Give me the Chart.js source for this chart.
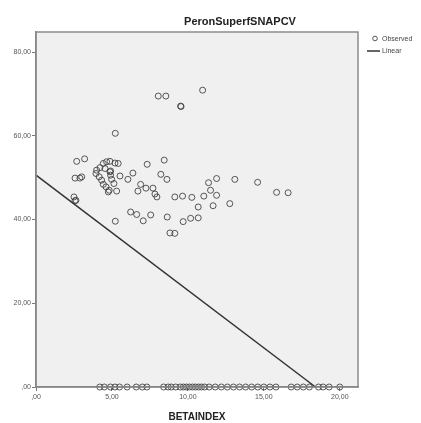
<!DOCTYPE html>
<html><head><meta charset="utf-8">
<script src="https://cdn.jsdelivr.net/npm/chart.js@4/dist/chart.umd.min.js"></script>
<style>html,body{margin:0;padding:0;background:#fff}canvas{display:block}</style>
</head><body>
<canvas id="c" width="421" height="423"></canvas>
<script>
const chartTitle = "PeronSuperfSNAPCV";
const xAxisTitle = "BETAINDEX";
const legendLabels = ["Observed", "Linear"];
const xTicks = [0, 5, 10, 15, 20];
const xTickLabels = [",00", "5,00", "10,00", "15,00", "20,00"];
const yTicks = [0, 20, 40, 60, 80];
const yTickLabels = [",00", "20,00", "40,00", "60,00", "80,00"];

const observedX = [8.05, 8.55, 10.97, 9.52, 9.55, 5.22, 2.68, 3.20, 7.32, 8.44,
  2.57, 3.01, 2.89, 2.50, 2.57, 2.63, 5.53, 6.05, 6.38, 6.89, 6.71, 7.24, 7.70,
  7.96, 7.83, 8.22, 8.62, 9.14, 9.65, 10.26, 11.05, 11.36, 11.89, 11.49, 11.89,
  13.09, 10.68, 11.66, 12.76, 14.59, 15.84, 16.60, 5.22, 6.23, 6.63, 7.06, 7.55,
  8.64, 9.69, 10.18, 10.68, 8.82, 9.14,
  3.99, 4.21, 4.43, 4.65, 4.87, 5.20, 5.41, 3.95, 4.16, 4.32, 4.43, 4.61, 4.87,
  4.91, 4.98, 5.13, 4.82, 5.31, 4.54, 4.76, 4.91];
const observedY = [69.5, 69.5, 70.9, 67.1, 67.0, 60.6, 53.9, 54.5, 53.2, 54.2,
  49.9, 50.2, 49.9, 45.4, 44.5, 44.6, 50.4, 49.6, 51.1, 48.4, 46.8, 47.5, 47.5,
  45.4, 46.1, 50.8, 49.6, 45.4, 45.6, 45.3, 45.6, 48.8, 49.8, 47.0, 45.8,
  49.6, 43.0, 43.3, 43.8, 48.9, 46.5, 46.4, 39.6, 41.8, 41.2, 39.7, 41.1,
  40.6, 39.5, 40.3, 40.4, 36.8, 36.7,
  51.8, 52.4, 53.4, 53.8, 53.9, 53.5, 53.4, 51.0, 50.2, 49.4, 48.4, 47.8, 51.4,
  50.6, 49.6, 48.6, 47.0, 46.8, 52.2, 46.6, 51.6];
const zeroX = [4.2, 4.5, 4.9, 5.2, 5.5, 6.0, 6.6, 7.0, 7.3, 8.4, 8.7, 8.9, 9.2,
  9.5, 9.7, 9.9, 10.1, 10.3, 10.5, 10.7, 10.9, 11.1, 11.4, 11.8, 12.2, 12.6,
  13.0, 13.4, 13.8, 14.2, 14.6, 15.0, 15.4, 15.8, 16.8, 17.2, 17.6, 18.0, 18.6,
  18.9, 19.3, 20.0];
const zeroY = zeroX.map(() => 0);
const fitX = [0, 18.4];
const fitY = [50.6, 0];

const allX = observedX.concat(zeroX);
const allY = observedY.concat(zeroY);
const obsPoints = allX.map((x, i) => ({ x: x, y: allY[i] }));
const fitPoints = fitX.map((x, i) => ({ x: x, y: fitY[i] }));

const FONT = "'Liberation Sans', Arial, sans-serif";

const decor = {
  id: 'decor',
  beforeDraw(chart) {
    const { ctx, chartArea: a } = chart;
    ctx.save();
    ctx.fillStyle = '#f0f0f0';
    ctx.fillRect(a.left, a.top, a.right - a.left, a.bottom - a.top);
    ctx.restore();
  },
  afterDraw(chart) {
    const { ctx, chartArea: a } = chart;
    ctx.save();
    ctx.strokeStyle = '#8c8c8c';
    ctx.lineWidth = 1.5;
    ctx.strokeRect(a.left, a.top, a.right - a.left, a.bottom - a.top);
    // title
    ctx.fillStyle = '#222';
    ctx.font = "bold 11px " + FONT;
    ctx.textAlign = 'center';
    ctx.textBaseline = 'middle';
    ctx.fillText(chartTitle, 240, 22);
    // legend
    ctx.font = "7px " + FONT;
    ctx.textAlign = 'left';
    ctx.strokeStyle = '#555';
    ctx.lineWidth = 1;
    ctx.beginPath();
    ctx.arc(375, 38.5, 2.3, 0, Math.PI * 2);
    ctx.stroke();
    ctx.fillStyle = '#444';
    ctx.fillText(legendLabels[0], 382, 39.5);
    ctx.strokeStyle = '#333';
    ctx.lineWidth = 1.5;
    ctx.beginPath();
    ctx.moveTo(367, 51);
    ctx.lineTo(380, 51);
    ctx.stroke();
    ctx.fillText(legendLabels[1], 382, 51);
    ctx.restore();
  }
};

new Chart(document.getElementById('c'), {
  type: 'scatter',
  data: {
    datasets: [
      {
        label: legendLabels[0],
        data: obsPoints,
        pointRadius: 3,
        pointBorderWidth: 1,
        pointBackgroundColor: 'rgba(0,0,0,0)',
        pointBorderColor: 'rgba(60,60,60,0.85)',
        clip: false
      },
      {
        type: 'line',
        label: legendLabels[1],
        data: fitPoints,
        borderColor: '#333',
        borderWidth: 1.5,
        pointRadius: 0,
        fill: false,
        clip: false
      }
    ]
  },
  options: {
    responsive: false,
    devicePixelRatio: 1,
    animation: false,
    layout: { padding: { top: 32, right: 63, left: 0, bottom: 0 } },
    plugins: { legend: { display: false }, title: { display: false }, tooltip: { enabled: false } },
    scales: {
      x: {
        type: 'linear',
        min: 0,
        max: 21.2,
        afterFit(s) { s.height = 36; },
        afterBuildTicks(s) { s.ticks = xTicks.map(v => ({ value: v })); },
        ticks: {
          autoSkip: false,
          maxRotation: 0,
          padding: 2,
          color: '#555',
          font: { family: FONT, size: 7 },
          callback: (v) => xTickLabels[xTicks.indexOf(v)]
        },
        grid: { drawOnChartArea: false, tickLength: 4, color: '#777' },
        border: { color: '#777', width: 1.5 },
        title: {
          display: true,
          text: xAxisTitle,
          color: '#222',
          font: { family: FONT, size: 10, weight: 'bold' },
          padding: { top: 0, bottom: 0 }
        }
      },
      y: {
        type: 'linear',
        min: 0,
        max: 84.8,
        afterFit(s) { s.width = 36; },
        afterBuildTicks(s) { s.ticks = yTicks.map(v => ({ value: v })); },
        ticks: {
          autoSkip: false,
          padding: 1,
          color: '#555',
          font: { family: FONT, size: 7 },
          callback: (v) => yTickLabels[yTicks.indexOf(v)]
        },
        grid: { drawOnChartArea: false, tickLength: 4, color: '#777' },
        border: { color: '#777', width: 1.5 }
      }
    }
  },
  plugins: [decor]
});
</script>
</body></html>
